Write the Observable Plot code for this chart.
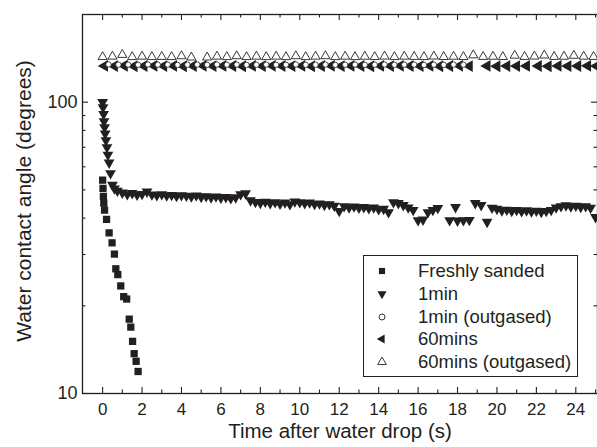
<!DOCTYPE html>
<html><head><meta charset="utf-8">
<script src="https://cdn.jsdelivr.net/npm/d3@7"></script>
<script src="https://cdn.jsdelivr.net/npm/@observablehq/plot@0.6"></script>
<style>
body{margin:0;background:#fff;}
#wrap{position:relative;width:597px;height:447px;font-family:"Liberation Sans",Arial,sans-serif;overflow:hidden;}
#legend{position:absolute;left:363px;top:255px;width:215px;height:122px;border:1px solid #231f20;box-sizing:border-box;background:#fff;}
.row{position:absolute;left:0;height:22px;line-height:22px;font-size:18.5px;color:#231f20;white-space:nowrap;}
.row svg{position:absolute;left:10px;top:3px;}
.row span{position:absolute;left:54px;top:0;}
</style></head><body><div id="wrap"></div>
<script>
// ---- data ----
const seriesNames = ["Freshly sanded", "1min", "1min (outgased)", "60mins", "60mins (outgased)"];

const freshT = [0, 0.02, 0.04, 0.06, 0.1, 0.2, 0.33, 0.48, 0.6, 0.67, 0.77, 0.92, 1.07, 1.22, 1.35, 1.43, 1.52, 1.6, 1.7, 1.8];
const freshV = [54, 50.6, 47.5, 45, 42.6, 39.6, 35.6, 32.9, 30.1, 26.8, 25.6, 23.4, 21.5, 21.1, 18.0, 16.9, 15.1, 13.7, 12.9, 11.9];

const min1T = [0, 0.02, 0.05, 0.07, 0.1, 0.13, 0.17, 0.22, 0.27, 0.33, 0.4, 0.5,
  0.6, 0.75, 1.0, 1.25, 1.5, 1.75, 2.0, 2.25, 2.5, 2.75, 3.0, 3.25, 3.5, 3.75, 4.0, 4.25, 4.5, 4.75, 5.0,
  5.25, 5.5, 5.75, 6.0, 6.25, 6.5, 6.75, 7.0, 7.25, 7.5, 7.75, 8.0, 8.25, 8.5, 8.75, 9.0, 9.25, 9.5, 9.75,
  10.0, 10.25, 10.5, 10.75, 11.0, 11.25, 11.5, 11.75, 12.0, 12.25, 12.5, 12.75, 13.0, 13.25, 13.5, 13.75,
  14.0, 14.25, 14.5, 14.75, 15.0, 15.25, 15.5, 15.75, 16.0, 16.25, 16.5, 16.75, 17.0, 17.6, 17.9, 18.0,
  18.3, 18.6, 18.9, 19.2, 19.5, 19.75, 20.0, 20.25, 20.5, 20.75, 21.0, 21.25, 21.5, 21.75, 22.0, 22.25,
  22.5, 22.75, 23.0, 23.25, 23.5, 23.75, 24.0, 24.25, 24.5, 24.75, 25.0];
const min1V = [100, 96, 91, 86, 82, 78, 74, 70, 66, 62, 57, 52,
  50.5, 49.6, 48.9, 48.3, 48.7, 48.1, 48.4, 49.3, 48.2, 47.9, 48.3, 47.8, 48.0, 47.6, 47.9, 47.7, 47.4, 47.8, 47.3,
  47.5, 47.1, 47.4, 47.0, 47.2, 46.8, 47.1, 48.3, 48.6, 46.0, 45.4, 45.1, 45.5, 45.0, 45.3, 44.8, 45.2, 44.6, 45.6,
  45.3, 45.0, 45.2, 44.7, 44.9, 44.4, 44.6, 44.1, 42.3, 43.9, 43.5, 43.8, 43.4, 43.6, 43.2, 43.5,
  42.9, 43.0, 41.9, 45.3, 45.0, 44.3, 43.5, 42.6, 39.3, 39.5, 41.9, 42.6, 43.3, 39.3, 43.6, 39.2,
  39.3, 39.4, 45.0, 44.3, 38.8, 43.4, 43.0, 42.5, 42.7, 42.3, 42.6, 42.2, 42.5, 42.1, 42.4, 42.0,
  42.3, 42.6, 43.5, 43.9, 44.2, 43.8, 44.1, 43.7, 43.9, 43.4, 40.3];

const min1OutT = [0.3, 0.8, 1.3, 1.8, 2.3, 2.8, 3.3, 3.8, 4.3, 4.8, 5.3, 5.8, 6.3, 6.8, 7.3, 7.8, 8.3, 8.8, 9.3,
  9.8, 10.3, 10.8, 11.3, 11.8, 12.3, 12.8, 13.3, 13.8, 14.3, 14.8, 15.3, 15.8, 16.3, 16.8, 17.3, 17.8, 18.3];
const min1OutV = [134.8, 134.5, 134.6, 134.4, 134.7, 134.5, 134.6, 134.3, 134.5, 134.6, 134.4, 134.7, 134.5, 134.6, 134.3, 134.5, 134.6, 134.4, 134.5,
  134.7, 134.4, 134.5, 134.6, 134.3, 134.5, 134.6, 134.4, 134.5, 134.7, 134.4, 134.5, 134.6, 134.3, 134.5, 134.4, 134.6, 134.5];

const min60T = [0.1, 0.6, 1.1, 1.6, 2.1, 2.6, 3.1, 3.6, 4.1, 4.6, 5.1, 5.6, 6.1, 6.6, 7.1, 7.6, 8.1, 8.6, 9.1,
  9.6, 10.1, 10.6, 11.1, 11.6, 12.1, 12.6, 13.1, 13.6, 14.1, 14.6, 15.1, 15.6, 16.1, 16.6, 17.1, 17.6, 18.1, 18.6,
  19.5, 20.0, 20.5, 21.0, 21.5, 22.1, 22.6, 23.1, 23.6, 24.1, 24.6, 25.05];
const min60V = [133.2, 133.0, 133.4, 132.9, 133.1, 133.3, 133.0, 133.2, 132.9, 133.1, 133.3, 133.0, 133.2, 133.1, 132.9, 133.2, 133.0, 133.3, 133.1,
  133.0, 133.2, 132.9, 133.1, 133.3, 133.0, 133.2, 133.1, 132.9, 133.2, 133.0, 133.3, 133.1, 133.0, 133.2, 132.9, 133.1, 133.3, 133.0,
  133.2, 132.9, 133.1, 133.0, 133.2, 133.1, 132.9, 133.2, 133.0, 133.1, 133.3, 133.0];

const min60OutT = [0, 0.5, 1, 1.5, 2, 2.5, 3, 3.5, 4, 4.5, 5.3, 5.8, 6.3, 6.8, 7.3, 7.8, 8.3, 8.8, 9.3, 9.8,
  10.3, 10.8, 11.3, 11.8, 12.3, 12.8, 13.3, 13.8, 14.3, 14.8, 15.3, 15.8, 16.3, 16.8, 17.3, 17.8, 18.3, 18.8,
  19.3, 19.8, 20.3, 20.9, 21.4, 21.9, 22.4, 22.9, 23.4, 23.9, 24.4, 24.9];
const min60OutV = [143, 143.5, 145.5, 143, 143.5, 143, 143.2, 143, 144, 142.5, 142.5, 143.5, 143, 144, 143, 143.5, 143, 143.5, 143, 144,
  143, 143.5, 144, 143, 143.5, 143, 143.4, 143, 143.6, 143, 143.5, 143.2, 143, 143.6, 143.1, 143.4, 143, 145,
  143.2, 143.4, 143, 144.6, 143.2, 143.6, 144.8, 143.2, 143.4, 144.5, 143.5, 143.2];

const xMajorTicks = [0, 2, 4, 6, 8, 10, 12, 14, 16, 18, 20, 22, 24];
const xMinorTicks = [1, 3, 5, 7, 9, 11, 13, 15, 17, 19, 21, 23, 25];
const yMajorTicks = [10, 100];
const yMinorTicks = [20, 30, 40, 50, 60, 70, 80, 90];

// ---- setup ----
const ink = "#231f20";
const W = 597, H = 447, mL = 82, mT = 14, mB = 54, mR = 0;
const frameH = H - mT - mB, frameW = W - mL - mR;

function tri(angle) {
  return {draw(ctx, size) {
    const a = Math.sqrt(size * 4 / Math.sqrt(3));
    const R = a / Math.sqrt(3);
    for (let k = 0; k < 3; k++) {
      const th = angle + k * 2 * Math.PI / 3;
      const x = R * Math.cos(th), y = R * Math.sin(th);
      if (k) ctx.lineTo(x, y); else ctx.moveTo(x, y);
    }
    ctx.closePath();
  }};
}
const triUp = tri(-Math.PI / 2), triDown = tri(Math.PI / 2), triLeft = tri(Math.PI);

const toRows = (T, V) => T.map((t, i) => ({t, v: V[i]}));
const fresh = toRows(freshT, freshV);
const min1 = toRows(min1T, min1V);
const min1Out = toRows(min1OutT, min1OutV);
const min60 = toRows(min60T, min60V);
const min60Out = toRows(min60OutT, min60OutV);

const plot = Plot.plot({
  width: W, height: H,
  marginLeft: mL, marginTop: mT, marginBottom: mB, marginRight: mR,
  style: {fontFamily: "'Liberation Sans', Arial, sans-serif", background: "white", color: ink},
  x: {domain: [-1.02, 25.1]},
  y: {type: "log", domain: [10, 200]},
  marks: [
    // inward ticks
    Plot.tickX(xMajorTicks, {x: d => d, insetTop: frameH - 6, stroke: ink, strokeWidth: 1.1}),
    Plot.tickX(xMinorTicks, {x: d => d, insetTop: frameH - 3.5, stroke: ink, strokeWidth: 1.1}),
    Plot.tickX(xMajorTicks, {x: d => d, insetBottom: frameH - 6, stroke: ink, strokeWidth: 1.1}),
    Plot.tickX(xMinorTicks, {x: d => d, insetBottom: frameH - 3.5, stroke: ink, strokeWidth: 1.1}),
    Plot.tickY(yMajorTicks, {y: d => d, insetRight: frameW - 6, stroke: ink, strokeWidth: 1.1}),
    Plot.tickY(yMinorTicks, {y: d => d, insetRight: frameW - 3.5, stroke: ink, strokeWidth: 1.1}),
    Plot.tickY(yMajorTicks, {y: d => d, insetLeft: frameW - 6, stroke: ink, strokeWidth: 1.1}),
    Plot.tickY(yMinorTicks, {y: d => d, insetLeft: frameW - 3.5, stroke: ink, strokeWidth: 1.1}),
    Plot.axisX({ticks: xMajorTicks, tickSize: 0, tickPadding: 9, fontSize: 17, label: null, tickFormat: d => String(d)}),
    Plot.axisY({ticks: yMajorTicks, tickSize: 0, tickPadding: 5, fontSize: 18, label: null, tickFormat: d => String(d)}),
    Plot.text(["Time after water drop (s)"], {frameAnchor: "bottom", dy: 44, fontSize: 20.5, fill: ink}),
    Plot.text(["Water contact angle (degrees)"], {frameAnchor: "left", textAnchor: "middle", rotate: -90, dx: -58, dy: -3, fontSize: 21, fill: ink}),
    // data
    Plot.dot(fresh, {x: "t", y: "v", symbol: "square", r: 4.1, fill: ink, stroke: "none"}),
    Plot.dot(min1, {x: "t", y: "v", symbol: triDown, r: 4.0, fill: ink, stroke: "none"}),
    Plot.dot(min60, {x: "t", y: "v", symbol: triLeft, r: 4.4, fill: ink, stroke: "none"}),
    Plot.dot(min1Out, {x: "t", y: "v", symbol: "circle", r: 2.7, fill: "white", stroke: ink, strokeWidth: 0.8}),
    Plot.dot(min60Out, {x: "t", y: "v", symbol: triUp, r: 3.4, fill: "white", stroke: ink, strokeWidth: 0.9}),
    Plot.frame({stroke: ink, strokeWidth: 1.3})
  ]
});

const wrap = document.getElementById("wrap");
wrap.appendChild(plot);

// legend
const legend = document.createElement("div");
legend.id = "legend";
const legendSymbols = [
  {sym: d3.symbolSquare, size: 38, fill: ink, stroke: "none"},
  {sym: triDown, size: 36, fill: ink, stroke: "none"},
  {sym: d3.symbolCircle, size: 28, fill: "white", stroke: ink},
  {sym: triLeft, size: 36, fill: ink, stroke: "none"},
  {sym: triUp, size: 32, fill: "white", stroke: ink}
];
seriesNames.forEach((name, i) => {
  const row = document.createElement("div");
  row.className = "row";
  row.style.top = (4 + i * 22.8) + "px";
  const s = legendSymbols[i];
  const p = d3.path();
  s.sym.draw(p, s.size);
  row.innerHTML = `<svg width="16" height="16" viewBox="-8 -8 16 16"><path d="${p.toString()}" fill="${s.fill}" stroke="${s.stroke}" stroke-width="0.9"/></svg><span>${name}</span>`;
  legend.appendChild(row);
});
wrap.appendChild(legend);
</script>
</body></html>
